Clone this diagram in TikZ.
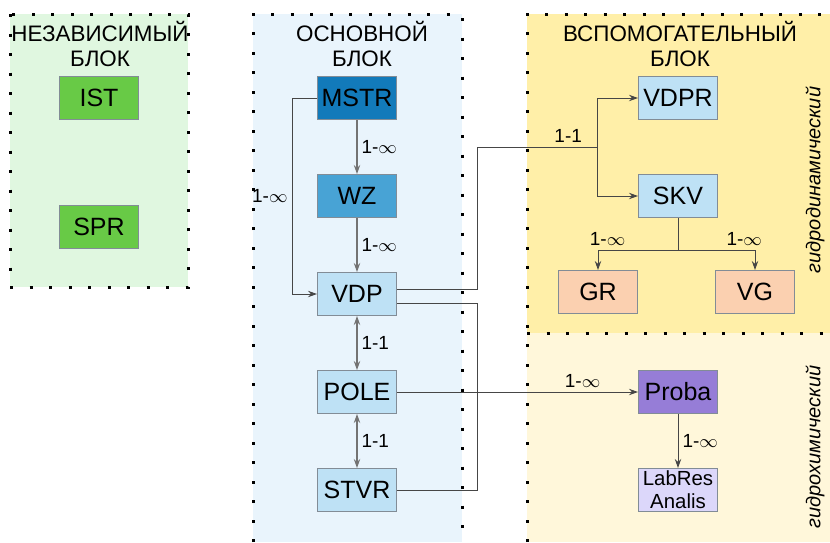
\documentclass[tikz,border=0pt]{standalone}
\usepackage{fontspec}
\setmainfont{Liberation Sans}
\usepackage{xcolor}
\usepackage{tikz}
\usetikzlibrary{arrows.meta,positioning,calc}
\definecolor{lineDark}{RGB}{70,70,70}
\definecolor{borderGray}{RGB}{130,140,150}
\definecolor{indepBg}{RGB}{224,247,224}
\definecolor{indepGreen}{RGB}{104,202,70}
\definecolor{mainBg}{RGB}{233,244,252}
\definecolor{mstrBlue}{RGB}{18,122,186}
\definecolor{wzBlue}{RGB}{72,163,213}
\definecolor{tableBlue}{RGB}{190,225,245}
\definecolor{auxBg}{RGB}{255,239,168}
\definecolor{auxBgLight}{RGB}{255,247,218}
\definecolor{peachOrange}{RGB}{251,208,176}
\definecolor{probaPurple}{RGB}{150,125,215}
\definecolor{labLavender}{RGB}{220,215,250}
\tikzset{
  tablebox/.style={
    rectangle, draw=borderGray, line width=0.5pt, fill=tableBlue,
    minimum width=39.5pt, minimum height=21.5pt, inner sep=0pt,
    font=\fontsize{12.5}{14}\selectfont
  },
  blocktitle/.style={align=center, font=\fontsize{11.2}{12.5}\selectfont},
  dotline/.style={line width=1.5pt, dash pattern=on 1.5pt off 8.25pt},
  reltext/.style={font=\fontsize{9.5}{11}\selectfont, inner sep=2pt, text=black},
  sidetext/.style={rotate=90, font=\fontsize{10}{12}\selectfont\itshape},
  plainLine/.style={line width=0.5pt, color=lineDark},
  modernArrow/.style={->, line width=0.5pt, >={Stealth[length=4.5pt,width=3.2pt]}, color=lineDark},
  bothArrow/.style={<->, line width=0.6pt, >={Stealth[length=4.5pt,width=3.2pt]}, color=black!55}
}
\begin{document}
\begin{tikzpicture}[x=0.5pt, y=-0.5pt]
        \useasboundingbox (0,0) rectangle (830,542);
        % block backgrounds
        \fill[indepBg] (10,14) rectangle (188,287);
        \fill[mainBg] (253,14) rectangle (462,542);
        \fill[auxBg] (527,14) rectangle (830,333);
        \fill[auxBgLight] (527,333) rectangle (830,542);
        \draw[dotline] (10,14) rectangle (188,287);
        \draw[dotline] (253,542) -- (253,14) -- (462,14) -- (462,542);
        \draw[dotline] (527,542) -- (527,14) -- (826,14);
        \draw[dotline] (527,333) -- (830,333);

        \node[blocktitle] (tIndep) at (100,44) {НЕЗАВИСИМЫЙ\\БЛОК};
        \node[blocktitle] (tMain) at (362,44) {ОСНОВНОЙ\\БЛОК};
        \node[blocktitle] (tAux) at (680,44) {ВСПОМОГАТЕЛЬНЫЙ\\БЛОК};
        \node[sidetext] (tHydroDyn) at (815,180) {гидродинамический};
        \node[sidetext] (tHydroChem) at (815,447) {гидрохимический};

        % independent block
        \node[tablebox, fill=indepGreen] (ist) at (99,98) {IST};
        \node[tablebox, fill=indepGreen] (spr) at (99,227) {SPR};

        % main block
        \node[tablebox, fill=mstrBlue] (mstr) at (357,98) {MSTR};
        \node[tablebox, fill=wzBlue, below=27pt of mstr] (wz) {WZ};
        \node[tablebox, below=27pt of wz] (vdp) {VDP};
        \node[tablebox, below=27pt of vdp] (pole) {POLE};
        \node[tablebox, below=27pt of pole] (stvr) {STVR};

        % auxiliary block
        \node[tablebox] (vdpr) at (678,98) {VDPR};
        \node[tablebox, below=27pt of vdpr] (skv) {SKV};
        \node[tablebox, fill=peachOrange] (gr) at (598,292) {GR};
        \node[tablebox, fill=peachOrange] (vg) at (755,292) {VG};
        \node[tablebox, fill=probaPurple] (proba) at (pole -| 678,0) {Proba};
        \node[tablebox, fill=labLavender, align=center,
              font=\fontsize{10.2}{11.5}\selectfont,
              below=27pt of proba] (labres) {LabRes\\Analis};

        \coordinate (busTop) at (477,147);
        \coordinate (branch) at (597,147);
        \coordinate (busBot) at ([xshift=40.25pt]stvr.east);

        \draw[modernArrow, color=black!55, line width=0.6pt] (mstr) -- (wz)
          node[reltext, midway, right] {1-$\infty$};
        \draw[modernArrow, color=black!55, line width=0.6pt] (wz) -- (vdp)
          node[reltext, midway, right] {1-$\infty$};
        \draw[modernArrow] (mstr.west) -- ++(-25,0) |- (vdp.west)
          node[reltext, pos=0.25, left] {1-$\infty$};
        \draw[bothArrow] (vdp) -- (pole) node[reltext, midway, right] {1-1};
        \draw[bothArrow] (pole) -- (stvr) node[reltext, midway, right] {1-1};

        \draw[plainLine] ([yshift=2.5pt]vdp.east) -| (busTop) -- (branch)
          node[reltext, pos=0.76, above] {1-1};
        \draw[modernArrow] (branch) |- (vdpr.west);
        \draw[modernArrow] (branch) |- (skv.west);
        \draw[plainLine] ([yshift=-4.5pt]vdp.east) -| (busBot) -- (stvr.east);
        \draw[modernArrow] (pole) -- (proba)
          node[reltext, pos=0.77, above] {1-$\infty$};

        \draw[plainLine] (skv.south) -- ++(0,32) coordinate (skvFork);
        \draw[modernArrow] (skvFork) -| (gr.north)
          node[reltext, pos=0.44, above] {1-$\infty$};
        \draw[modernArrow] (skvFork) -| (vg.north)
          node[reltext, pos=0.43, above] {1-$\infty$};
        \draw[modernArrow] (proba) -- (labres)
          node[reltext, midway, right] {1-$\infty$};
      \end{tikzpicture}
\end{document}
